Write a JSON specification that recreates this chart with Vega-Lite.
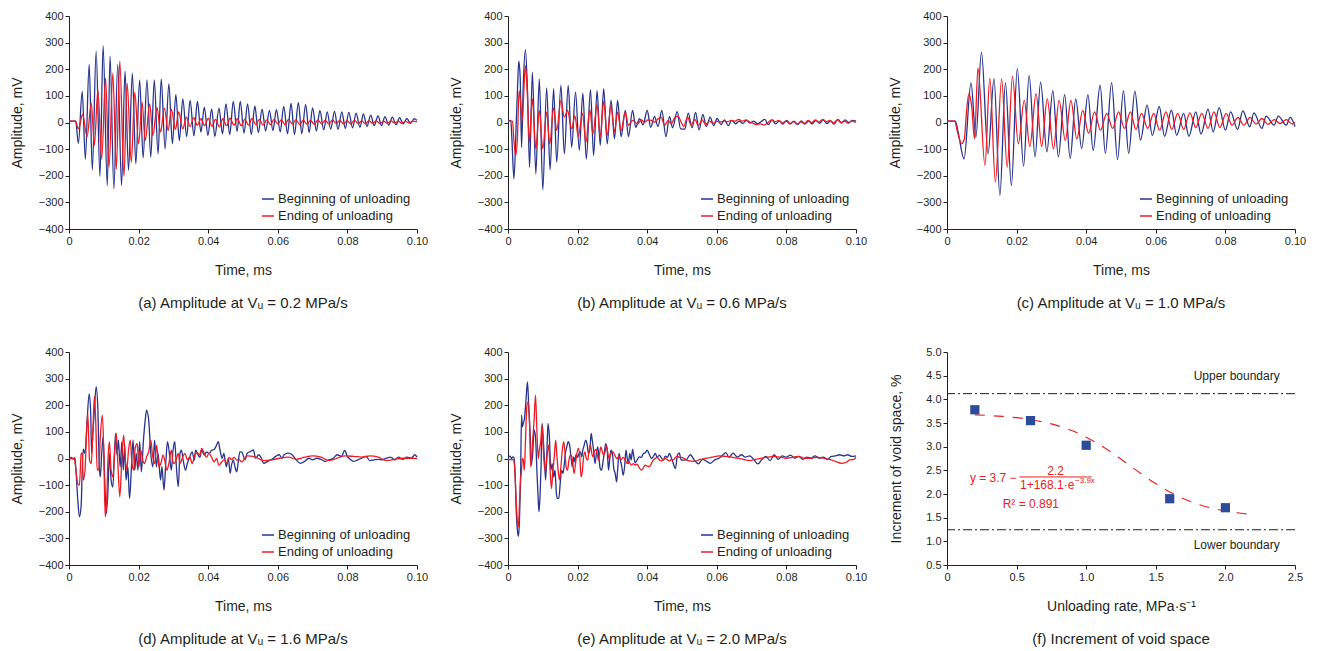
{
"$schema":"https://vega.github.io/schema/vega-lite/v6.json",
"padding":{"left":10,"top":10,"right":0,"bottom":0},
"config":{"font":"Liberation Sans","view":{"stroke":null},
"axis":{"grid":false,"domainColor":"#231f20","tickColor":"#231f20","labelColor":"#231f20","titleColor":"#231f20","labelFont":"Liberation Sans","titleFont":"Liberation Sans","labelFontSize":11,"titleFontSize":14,"titleFontWeight":"normal","tickSize":4,"labelPadding":2,"labelOverlap":false},
"axisY":{"titlePadding":14},"axisX":{"titlePadding":17,"labelFlush":false},
"legend":{"orient":"bottom-right","offset":6,"labelFont":"Liberation Sans","labelFontSize":13,"labelColor":"#231f20","symbolType":"stroke","symbolSize":144,"symbolStrokeWidth":1.5,"rowPadding":3,"padding":0,"labelOffset":3},
"title":{"font":"Liberation Sans","fontSize":15,"fontWeight":"normal","color":"#231f20"}},
"datasets":{
"a":[
{"t":0,"v":5,"s":"B"},{"t":0.0019,"v":5,"s":"B"},{"t":0.0027,"v":-78,"s":"B"},{"t":0.0038,"v":117,"s":"B"},{"t":0.0047,"v":-137,"s":"B"},{"t":0.0058,"v":218,"s":"B"},{"t":0.0067,"v":-178,"s":"B"},{"t":0.0078,"v":268,"s":"B"},{"t":0.0089,"v":-202,"s":"B"},{"t":0.0098,"v":288,"s":"B"},{"t":0.011,"v":-237,"s":"B"},{"t":0.0118,"v":248,"s":"B"},{"t":0.0129,"v":-249,"s":"B"},{"t":0.014,"v":218,"s":"B"},{"t":0.0151,"v":-237,"s":"B"},{"t":0.0161,"v":193,"s":"B"},{"t":0.0171,"v":-180,"s":"B"},{"t":0.0182,"v":185,"s":"B"},{"t":0.0192,"v":-155,"s":"B"},{"t":0.0203,"v":160,"s":"B"},{"t":0.0213,"v":-133,"s":"B"},{"t":0.0224,"v":160,"s":"B"},{"t":0.0235,"v":-130,"s":"B"},{"t":0.0245,"v":160,"s":"B"},{"t":0.0256,"v":-118,"s":"B"},{"t":0.0265,"v":164,"s":"B"},{"t":0.0276,"v":-99,"s":"B"},{"t":0.0287,"v":145,"s":"B"},{"t":0.0297,"v":-80,"s":"B"},{"t":0.0307,"v":105,"s":"B"},{"t":0.0317,"v":-68,"s":"B"},{"t":0.0327,"v":89,"s":"B"},{"t":0.0338,"v":-53,"s":"B"},{"t":0.0348,"v":83,"s":"B"},{"t":0.0359,"v":-50,"s":"B"},{"t":0.0369,"v":79,"s":"B"},{"t":0.0379,"v":-36,"s":"B"},{"t":0.0389,"v":58,"s":"B"},{"t":0.0399,"v":-49,"s":"B"},{"t":0.041,"v":51,"s":"B"},{"t":0.0419,"v":-53,"s":"B"},{"t":0.0431,"v":54,"s":"B"},{"t":0.0441,"v":-43,"s":"B"},{"t":0.0451,"v":70,"s":"B"},{"t":0.0462,"v":-45,"s":"B"},{"t":0.0472,"v":79,"s":"B"},{"t":0.0483,"v":-34,"s":"B"},{"t":0.0492,"v":79,"s":"B"},{"t":0.0503,"v":-40,"s":"B"},{"t":0.0513,"v":70,"s":"B"},{"t":0.0524,"v":-45,"s":"B"},{"t":0.0534,"v":62,"s":"B"},{"t":0.0544,"v":-38,"s":"B"},{"t":0.0555,"v":50,"s":"B"},{"t":0.0565,"v":-32,"s":"B"},{"t":0.0576,"v":45,"s":"B"},{"t":0.0586,"v":-30,"s":"B"},{"t":0.0596,"v":48,"s":"B"},{"t":0.0607,"v":-35,"s":"B"},{"t":0.0617,"v":60,"s":"B"},{"t":0.0628,"v":-42,"s":"B"},{"t":0.0638,"v":72,"s":"B"},{"t":0.0648,"v":-45,"s":"B"},{"t":0.0659,"v":75,"s":"B"},{"t":0.0669,"v":-42,"s":"B"},{"t":0.068,"v":68,"s":"B"},{"t":0.069,"v":-38,"s":"B"},{"t":0.07,"v":55,"s":"B"},{"t":0.0711,"v":-32,"s":"B"},{"t":0.0721,"v":45,"s":"B"},{"t":0.0732,"v":-28,"s":"B"},{"t":0.0742,"v":40,"s":"B"},{"t":0.0752,"v":-25,"s":"B"},{"t":0.0763,"v":42,"s":"B"},{"t":0.0773,"v":-26,"s":"B"},{"t":0.0784,"v":40,"s":"B"},{"t":0.0794,"v":-22,"s":"B"},{"t":0.0804,"v":38,"s":"B"},{"t":0.0815,"v":-20,"s":"B"},{"t":0.0825,"v":35,"s":"B"},{"t":0.0836,"v":-18,"s":"B"},{"t":0.0846,"v":32,"s":"B"},{"t":0.0856,"v":-15,"s":"B"},{"t":0.0867,"v":28,"s":"B"},{"t":0.0877,"v":-12,"s":"B"},{"t":0.0888,"v":25,"s":"B"},{"t":0.0898,"v":-12,"s":"B"},{"t":0.0908,"v":22,"s":"B"},{"t":0.0919,"v":-10,"s":"B"},{"t":0.0929,"v":20,"s":"B"},{"t":0.094,"v":-8,"s":"B"},{"t":0.095,"v":18,"s":"B"},{"t":0.096,"v":-5,"s":"B"},{"t":0.0971,"v":15,"s":"B"},{"t":0.0981,"v":-3,"s":"B"},{"t":0.0992,"v":14,"s":"B"},{"t":0.1,"v":8,"s":"B"},
{"t":0,"v":5,"s":"E"},{"t":0.0019,"v":5,"s":"E"},{"t":0.0027,"v":-24,"s":"E"},{"t":0.0039,"v":30,"s":"E"},{"t":0.0052,"v":-53,"s":"E"},{"t":0.0064,"v":73,"s":"E"},{"t":0.0073,"v":-86,"s":"E"},{"t":0.0083,"v":123,"s":"E"},{"t":0.0094,"v":-137,"s":"E"},{"t":0.0105,"v":167,"s":"E"},{"t":0.0115,"v":-168,"s":"E"},{"t":0.0126,"v":185,"s":"E"},{"t":0.0136,"v":-175,"s":"E"},{"t":0.0146,"v":230,"s":"E"},{"t":0.0158,"v":-203,"s":"E"},{"t":0.0167,"v":148,"s":"E"},{"t":0.0179,"v":-150,"s":"E"},{"t":0.0189,"v":114,"s":"E"},{"t":0.02,"v":-80,"s":"E"},{"t":0.021,"v":76,"s":"E"},{"t":0.0219,"v":-68,"s":"E"},{"t":0.0232,"v":70,"s":"E"},{"t":0.0241,"v":-49,"s":"E"},{"t":0.0253,"v":57,"s":"E"},{"t":0.0263,"v":-36,"s":"E"},{"t":0.0274,"v":54,"s":"E"},{"t":0.0285,"v":-30,"s":"E"},{"t":0.0294,"v":50,"s":"E"},{"t":0.0306,"v":-26,"s":"E"},{"t":0.0315,"v":40,"s":"E"},{"t":0.0327,"v":-24,"s":"E"},{"t":0.0337,"v":20,"s":"E"},{"t":0.0348,"v":-15,"s":"E"},{"t":0.0358,"v":18,"s":"E"},{"t":0.0369,"v":-10,"s":"E"},{"t":0.0379,"v":14,"s":"E"},{"t":0.039,"v":-12,"s":"E"},{"t":0.04,"v":15,"s":"E"},{"t":0.0411,"v":-14,"s":"E"},{"t":0.0421,"v":12,"s":"E"},{"t":0.0432,"v":-16,"s":"E"},{"t":0.0442,"v":14,"s":"E"},{"t":0.0453,"v":-12,"s":"E"},{"t":0.0463,"v":16,"s":"E"},{"t":0.0474,"v":-10,"s":"E"},{"t":0.0484,"v":14,"s":"E"},{"t":0.0495,"v":-12,"s":"E"},{"t":0.0505,"v":12,"s":"E"},{"t":0.0516,"v":-10,"s":"E"},{"t":0.0526,"v":15,"s":"E"},{"t":0.0537,"v":-8,"s":"E"},{"t":0.0547,"v":12,"s":"E"},{"t":0.0558,"v":-10,"s":"E"},{"t":0.0568,"v":10,"s":"E"},{"t":0.0579,"v":-8,"s":"E"},{"t":0.0589,"v":12,"s":"E"},{"t":0.06,"v":-6,"s":"E"},{"t":0.061,"v":10,"s":"E"},{"t":0.0621,"v":-8,"s":"E"},{"t":0.0631,"v":12,"s":"E"},{"t":0.0642,"v":-6,"s":"E"},{"t":0.0652,"v":10,"s":"E"},{"t":0.0663,"v":-8,"s":"E"},{"t":0.0673,"v":9,"s":"E"},{"t":0.0684,"v":-6,"s":"E"},{"t":0.0694,"v":8,"s":"E"},{"t":0.0705,"v":-7,"s":"E"},{"t":0.0715,"v":9,"s":"E"},{"t":0.0726,"v":-5,"s":"E"},{"t":0.0736,"v":8,"s":"E"},{"t":0.0747,"v":-6,"s":"E"},{"t":0.0757,"v":10,"s":"E"},{"t":0.0768,"v":-4,"s":"E"},{"t":0.0778,"v":8,"s":"E"},{"t":0.0789,"v":-6,"s":"E"},{"t":0.0799,"v":7,"s":"E"},{"t":0.081,"v":-5,"s":"E"},{"t":0.082,"v":8,"s":"E"},{"t":0.0831,"v":-4,"s":"E"},{"t":0.0841,"v":6,"s":"E"},{"t":0.0852,"v":-5,"s":"E"},{"t":0.0862,"v":7,"s":"E"},{"t":0.0873,"v":-3,"s":"E"},{"t":0.0883,"v":6,"s":"E"},{"t":0.0894,"v":-4,"s":"E"},{"t":0.0904,"v":5,"s":"E"},{"t":0.0915,"v":-3,"s":"E"},{"t":0.0925,"v":6,"s":"E"},{"t":0.0936,"v":-2,"s":"E"},{"t":0.0946,"v":5,"s":"E"},{"t":0.0957,"v":-3,"s":"E"},{"t":0.0967,"v":4,"s":"E"},{"t":0.0978,"v":-2,"s":"E"},{"t":0.0988,"v":5,"s":"E"},{"t":0.1,"v":2,"s":"E"}],
"b":[
{"t":0,"v":5,"s":"B"},{"t":0.0008,"v":8,"s":"B"},{"t":0.0011,"v":-55,"s":"B"},{"t":0.0017,"v":-212,"s":"B"},{"t":0.0024,"v":10,"s":"B"},{"t":0.0027,"v":114,"s":"B"},{"t":0.0031,"v":230,"s":"B"},{"t":0.0035,"v":170,"s":"B"},{"t":0.0039,"v":-93,"s":"B"},{"t":0.0044,"v":145,"s":"B"},{"t":0.005,"v":274,"s":"B"},{"t":0.0056,"v":120,"s":"B"},{"t":0.0062,"v":-168,"s":"B"},{"t":0.007,"v":189,"s":"B"},{"t":0.008,"v":-193,"s":"B"},{"t":0.009,"v":164,"s":"B"},{"t":0.01,"v":-253,"s":"B"},{"t":0.0111,"v":130,"s":"B"},{"t":0.0121,"v":-178,"s":"B"},{"t":0.0131,"v":127,"s":"B"},{"t":0.014,"v":-149,"s":"B"},{"t":0.0152,"v":139,"s":"B"},{"t":0.0162,"v":-118,"s":"B"},{"t":0.0173,"v":139,"s":"B"},{"t":0.0183,"v":-93,"s":"B"},{"t":0.0194,"v":114,"s":"B"},{"t":0.0205,"v":-105,"s":"B"},{"t":0.0215,"v":110,"s":"B"},{"t":0.0225,"v":-137,"s":"B"},{"t":0.0237,"v":123,"s":"B"},{"t":0.0246,"v":-124,"s":"B"},{"t":0.0256,"v":120,"s":"B"},{"t":0.0265,"v":-86,"s":"B"},{"t":0.0275,"v":127,"s":"B"},{"t":0.0285,"v":-80,"s":"B"},{"t":0.0296,"v":83,"s":"B"},{"t":0.0306,"v":-61,"s":"B"},{"t":0.0315,"v":83,"s":"B"},{"t":0.0325,"v":-53,"s":"B"},{"t":0.0337,"v":45,"s":"B"},{"t":0.0346,"v":-53,"s":"B"},{"t":0.0358,"v":45,"s":"B"},{"t":0.0367,"v":-18,"s":"B"},{"t":0.0378,"v":14,"s":"B"},{"t":0.0388,"v":-9,"s":"B"},{"t":0.04,"v":45,"s":"B"},{"t":0.041,"v":-18,"s":"B"},{"t":0.0421,"v":23,"s":"B"},{"t":0.0431,"v":-15,"s":"B"},{"t":0.0442,"v":45,"s":"B"},{"t":0.0454,"v":-53,"s":"B"},{"t":0.0464,"v":23,"s":"B"},{"t":0.0473,"v":-20,"s":"B"},{"t":0.0486,"v":41,"s":"B"},{"t":0.0496,"v":-24,"s":"B"},{"t":0.0508,"v":-25,"s":"B"},{"t":0.0518,"v":35,"s":"B"},{"t":0.0529,"v":-20,"s":"B"},{"t":0.0539,"v":38,"s":"B"},{"t":0.0549,"v":-28,"s":"B"},{"t":0.056,"v":30,"s":"B"},{"t":0.057,"v":-15,"s":"B"},{"t":0.0581,"v":20,"s":"B"},{"t":0.0591,"v":-12,"s":"B"},{"t":0.0601,"v":15,"s":"B"},{"t":0.0612,"v":-8,"s":"B"},{"t":0.0622,"v":10,"s":"B"},{"t":0.0633,"v":-12,"s":"B"},{"t":0.0643,"v":8,"s":"B"},{"t":0.0654,"v":-5,"s":"B"},{"t":0.0664,"v":5,"s":"B"},{"t":0.0675,"v":-3,"s":"B"},{"t":0.0685,"v":8,"s":"B"},{"t":0.0696,"v":-2,"s":"B"},{"t":0.0706,"v":5,"s":"B"},{"t":0.0717,"v":-5,"s":"B"},{"t":0.0727,"v":3,"s":"B"},{"t":0.0738,"v":12,"s":"B"},{"t":0.0748,"v":-8,"s":"B"},{"t":0.0759,"v":10,"s":"B"},{"t":0.0769,"v":-5,"s":"B"},{"t":0.078,"v":6,"s":"B"},{"t":0.079,"v":-6,"s":"B"},{"t":0.0801,"v":8,"s":"B"},{"t":0.0811,"v":-5,"s":"B"},{"t":0.0822,"v":5,"s":"B"},{"t":0.0832,"v":-8,"s":"B"},{"t":0.0843,"v":6,"s":"B"},{"t":0.0853,"v":-6,"s":"B"},{"t":0.0864,"v":5,"s":"B"},{"t":0.0874,"v":-5,"s":"B"},{"t":0.0885,"v":8,"s":"B"},{"t":0.0895,"v":-3,"s":"B"},{"t":0.0906,"v":10,"s":"B"},{"t":0.0916,"v":-4,"s":"B"},{"t":0.0927,"v":6,"s":"B"},{"t":0.0937,"v":-6,"s":"B"},{"t":0.0948,"v":12,"s":"B"},{"t":0.0958,"v":-2,"s":"B"},{"t":0.0969,"v":10,"s":"B"},{"t":0.0979,"v":0,"s":"B"},{"t":0.099,"v":8,"s":"B"},{"t":0.1,"v":5,"s":"B"},
{"t":0,"v":5,"s":"E"},{"t":0.0013,"v":5,"s":"E"},{"t":0.0017,"v":-68,"s":"E"},{"t":0.0022,"v":-124,"s":"E"},{"t":0.0027,"v":-60,"s":"E"},{"t":0.0032,"v":120,"s":"E"},{"t":0.0037,"v":64,"s":"E"},{"t":0.0041,"v":8,"s":"E"},{"t":0.0046,"v":133,"s":"E"},{"t":0.005,"v":214,"s":"E"},{"t":0.0056,"v":95,"s":"E"},{"t":0.0061,"v":-74,"s":"E"},{"t":0.007,"v":89,"s":"E"},{"t":0.008,"v":-99,"s":"E"},{"t":0.009,"v":45,"s":"E"},{"t":0.01,"v":-99,"s":"E"},{"t":0.0111,"v":39,"s":"E"},{"t":0.012,"v":-80,"s":"E"},{"t":0.0131,"v":55,"s":"E"},{"t":0.014,"v":-30,"s":"E"},{"t":0.0152,"v":83,"s":"E"},{"t":0.0162,"v":20,"s":"E"},{"t":0.0171,"v":45,"s":"E"},{"t":0.0183,"v":-24,"s":"E"},{"t":0.0192,"v":26,"s":"E"},{"t":0.0202,"v":-53,"s":"E"},{"t":0.0214,"v":35,"s":"E"},{"t":0.0224,"v":-74,"s":"E"},{"t":0.0235,"v":49,"s":"E"},{"t":0.0244,"v":-43,"s":"E"},{"t":0.0256,"v":68,"s":"E"},{"t":0.0265,"v":-55,"s":"E"},{"t":0.0275,"v":80,"s":"E"},{"t":0.0285,"v":-49,"s":"E"},{"t":0.0296,"v":64,"s":"E"},{"t":0.0306,"v":-36,"s":"E"},{"t":0.0315,"v":39,"s":"E"},{"t":0.0325,"v":-30,"s":"E"},{"t":0.0337,"v":39,"s":"E"},{"t":0.0346,"v":-11,"s":"E"},{"t":0.0358,"v":8,"s":"E"},{"t":0.0373,"v":-5,"s":"E"},{"t":0.0383,"v":10,"s":"E"},{"t":0.0392,"v":1,"s":"E"},{"t":0.0402,"v":10,"s":"E"},{"t":0.0412,"v":8,"s":"E"},{"t":0.0421,"v":1,"s":"E"},{"t":0.0431,"v":14,"s":"E"},{"t":0.044,"v":20,"s":"E"},{"t":0.045,"v":-11,"s":"E"},{"t":0.046,"v":8,"s":"E"},{"t":0.0469,"v":-5,"s":"E"},{"t":0.0479,"v":18,"s":"E"},{"t":0.0489,"v":23,"s":"E"},{"t":0.0498,"v":0,"s":"E"},{"t":0.0505,"v":-15,"s":"E"},{"t":0.0516,"v":20,"s":"E"},{"t":0.0526,"v":-10,"s":"E"},{"t":0.0537,"v":12,"s":"E"},{"t":0.0547,"v":-12,"s":"E"},{"t":0.0558,"v":10,"s":"E"},{"t":0.0568,"v":-8,"s":"E"},{"t":0.0579,"v":5,"s":"E"},{"t":0.0589,"v":-3,"s":"E"},{"t":0.06,"v":4,"s":"E"},{"t":0.061,"v":2,"s":"E"},{"t":0.0621,"v":5,"s":"E"},{"t":0.0631,"v":3,"s":"E"},{"t":0.0642,"v":8,"s":"E"},{"t":0.0652,"v":5,"s":"E"},{"t":0.0663,"v":12,"s":"E"},{"t":0.0673,"v":5,"s":"E"},{"t":0.0684,"v":10,"s":"E"},{"t":0.0694,"v":2,"s":"E"},{"t":0.0705,"v":-3,"s":"E"},{"t":0.0715,"v":-8,"s":"E"},{"t":0.0726,"v":-5,"s":"E"},{"t":0.0736,"v":-10,"s":"E"},{"t":0.0747,"v":0,"s":"E"},{"t":0.0757,"v":10,"s":"E"},{"t":0.0768,"v":3,"s":"E"},{"t":0.0778,"v":8,"s":"E"},{"t":0.0789,"v":-2,"s":"E"},{"t":0.0799,"v":5,"s":"E"},{"t":0.081,"v":-5,"s":"E"},{"t":0.082,"v":3,"s":"E"},{"t":0.0831,"v":-5,"s":"E"},{"t":0.0841,"v":2,"s":"E"},{"t":0.0852,"v":-3,"s":"E"},{"t":0.0862,"v":8,"s":"E"},{"t":0.0873,"v":0,"s":"E"},{"t":0.0883,"v":10,"s":"E"},{"t":0.0894,"v":2,"s":"E"},{"t":0.0904,"v":12,"s":"E"},{"t":0.0915,"v":3,"s":"E"},{"t":0.0925,"v":8,"s":"E"},{"t":0.0936,"v":-2,"s":"E"},{"t":0.0946,"v":10,"s":"E"},{"t":0.0957,"v":0,"s":"E"},{"t":0.0967,"v":5,"s":"E"},{"t":0.0978,"v":-3,"s":"E"},{"t":0.0988,"v":6,"s":"E"},{"t":0.1,"v":0,"s":"E"}],
"c":[
{"t":0,"v":5,"s":"B"},{"t":0.0024,"v":5,"s":"B"},{"t":0.0032,"v":-36,"s":"B"},{"t":0.0049,"v":-137,"s":"B"},{"t":0.0069,"v":149,"s":"B"},{"t":0.0083,"v":-55,"s":"B"},{"t":0.0099,"v":264,"s":"B"},{"t":0.0118,"v":-118,"s":"B"},{"t":0.0135,"v":165,"s":"B"},{"t":0.0152,"v":-274,"s":"B"},{"t":0.0168,"v":150,"s":"B"},{"t":0.0185,"v":-237,"s":"B"},{"t":0.0202,"v":202,"s":"B"},{"t":0.022,"v":-164,"s":"B"},{"t":0.0236,"v":177,"s":"B"},{"t":0.0253,"v":-129,"s":"B"},{"t":0.0269,"v":152,"s":"B"},{"t":0.0287,"v":-110,"s":"B"},{"t":0.0304,"v":120,"s":"B"},{"t":0.032,"v":-129,"s":"B"},{"t":0.0338,"v":105,"s":"B"},{"t":0.0354,"v":-135,"s":"B"},{"t":0.037,"v":89,"s":"B"},{"t":0.0387,"v":-98,"s":"B"},{"t":0.0405,"v":105,"s":"B"},{"t":0.042,"v":-105,"s":"B"},{"t":0.044,"v":140,"s":"B"},{"t":0.0455,"v":-116,"s":"B"},{"t":0.0473,"v":150,"s":"B"},{"t":0.049,"v":-139,"s":"B"},{"t":0.0507,"v":120,"s":"B"},{"t":0.0522,"v":-116,"s":"B"},{"t":0.054,"v":118,"s":"B"},{"t":0.0556,"v":-66,"s":"B"},{"t":0.0575,"v":65,"s":"B"},{"t":0.059,"v":-48,"s":"B"},{"t":0.061,"v":60,"s":"B"},{"t":0.0625,"v":-52,"s":"B"},{"t":0.0645,"v":46,"s":"B"},{"t":0.066,"v":-48,"s":"B"},{"t":0.068,"v":34,"s":"B"},{"t":0.0695,"v":-52,"s":"B"},{"t":0.0715,"v":40,"s":"B"},{"t":0.073,"v":-44,"s":"B"},{"t":0.075,"v":50,"s":"B"},{"t":0.0765,"v":-35,"s":"B"},{"t":0.0782,"v":56,"s":"B"},{"t":0.08,"v":-29,"s":"B"},{"t":0.0815,"v":40,"s":"B"},{"t":0.0835,"v":-26,"s":"B"},{"t":0.085,"v":44,"s":"B"},{"t":0.087,"v":-16,"s":"B"},{"t":0.0882,"v":36,"s":"B"},{"t":0.0905,"v":-22,"s":"B"},{"t":0.0917,"v":24,"s":"B"},{"t":0.094,"v":-10,"s":"B"},{"t":0.0952,"v":24,"s":"B"},{"t":0.0975,"v":-10,"s":"B"},{"t":0.0986,"v":19,"s":"B"},{"t":0.1,"v":-15,"s":"B"},
{"t":0,"v":5,"s":"E"},{"t":0.0022,"v":5,"s":"E"},{"t":0.003,"v":-35,"s":"E"},{"t":0.0042,"v":-80,"s":"E"},{"t":0.005,"v":-60,"s":"E"},{"t":0.0056,"v":40,"s":"E"},{"t":0.0063,"v":108,"s":"E"},{"t":0.0071,"v":60,"s":"E"},{"t":0.0079,"v":-61,"s":"E"},{"t":0.0089,"v":205,"s":"E"},{"t":0.0109,"v":-161,"s":"E"},{"t":0.0123,"v":167,"s":"E"},{"t":0.0139,"v":-224,"s":"E"},{"t":0.0157,"v":164,"s":"E"},{"t":0.0173,"v":-168,"s":"E"},{"t":0.0188,"v":173,"s":"E"},{"t":0.0205,"v":-80,"s":"E"},{"t":0.0222,"v":83,"s":"E"},{"t":0.0238,"v":-90,"s":"E"},{"t":0.0256,"v":108,"s":"E"},{"t":0.0272,"v":-90,"s":"E"},{"t":0.0288,"v":89,"s":"E"},{"t":0.0306,"v":-99,"s":"E"},{"t":0.0322,"v":83,"s":"E"},{"t":0.034,"v":-68,"s":"E"},{"t":0.0356,"v":83,"s":"E"},{"t":0.0373,"v":-61,"s":"E"},{"t":0.039,"v":45,"s":"E"},{"t":0.0407,"v":-41,"s":"E"},{"t":0.0424,"v":40,"s":"E"},{"t":0.0441,"v":-29,"s":"E"},{"t":0.0459,"v":34,"s":"E"},{"t":0.0476,"v":-22,"s":"E"},{"t":0.0493,"v":40,"s":"E"},{"t":0.051,"v":-22,"s":"E"},{"t":0.0527,"v":40,"s":"E"},{"t":0.0543,"v":-26,"s":"E"},{"t":0.0559,"v":34,"s":"E"},{"t":0.0577,"v":-22,"s":"E"},{"t":0.0594,"v":34,"s":"E"},{"t":0.0611,"v":-29,"s":"E"},{"t":0.0629,"v":40,"s":"E"},{"t":0.0646,"v":-26,"s":"E"},{"t":0.0663,"v":34,"s":"E"},{"t":0.068,"v":-26,"s":"E"},{"t":0.0698,"v":36,"s":"E"},{"t":0.0715,"v":-19,"s":"E"},{"t":0.0732,"v":34,"s":"E"},{"t":0.075,"v":-22,"s":"E"},{"t":0.0767,"v":40,"s":"E"},{"t":0.0784,"v":-19,"s":"E"},{"t":0.0802,"v":34,"s":"E"},{"t":0.0819,"v":-10,"s":"E"},{"t":0.0836,"v":19,"s":"E"},{"t":0.0853,"v":-10,"s":"E"},{"t":0.0871,"v":19,"s":"E"},{"t":0.0888,"v":-6,"s":"E"},{"t":0.0905,"v":15,"s":"E"},{"t":0.0922,"v":-7,"s":"E"},{"t":0.094,"v":11,"s":"E"},{"t":0.0957,"v":-4,"s":"E"},{"t":0.0975,"v":11,"s":"E"},{"t":0.0992,"v":-6,"s":"E"},{"t":0.1,"v":0,"s":"E"}],
"d":[
{"t":0,"v":0,"s":"B"},{"t":0.0006,"v":4,"s":"B"},{"t":0.0012,"v":-2,"s":"B"},{"t":0.0017,"v":3,"s":"B"},{"t":0.002,"v":-44,"s":"B"},{"t":0.0025,"v":-150,"s":"B"},{"t":0.003,"v":-219,"s":"B"},{"t":0.0035,"v":-175,"s":"B"},{"t":0.0038,"v":-44,"s":"B"},{"t":0.0041,"v":35,"s":"B"},{"t":0.0046,"v":19,"s":"B"},{"t":0.0051,"v":119,"s":"B"},{"t":0.0058,"v":243,"s":"B"},{"t":0.0062,"v":182,"s":"B"},{"t":0.0065,"v":19,"s":"B"},{"t":0.0069,"v":107,"s":"B"},{"t":0.0073,"v":182,"s":"B"},{"t":0.0078,"v":270,"s":"B"},{"t":0.0083,"v":182,"s":"B"},{"t":0.0087,"v":-31,"s":"B"},{"t":0.009,"v":-69,"s":"B"},{"t":0.0094,"v":19,"s":"B"},{"t":0.0098,"v":81,"s":"B"},{"t":0.0102,"v":-56,"s":"B"},{"t":0.0107,"v":-207,"s":"B"},{"t":0.0112,"v":-119,"s":"B"},{"t":0.0116,"v":19,"s":"B"},{"t":0.0121,"v":-81,"s":"B"},{"t":0.0126,"v":-107,"s":"B"},{"t":0.0131,"v":31,"s":"B"},{"t":0.0134,"v":94,"s":"B"},{"t":0.0138,"v":13,"s":"B"},{"t":0.0142,"v":69,"s":"B"},{"t":0.0147,"v":-31,"s":"B"},{"t":0.0152,"v":63,"s":"B"},{"t":0.0156,"v":-44,"s":"B"},{"t":0.016,"v":50,"s":"B"},{"t":0.0164,"v":-81,"s":"B"},{"t":0.0169,"v":-31,"s":"B"},{"t":0.0174,"v":-150,"s":"B"},{"t":0.0179,"v":-44,"s":"B"},{"t":0.0184,"v":69,"s":"B"},{"t":0.0189,"v":-44,"s":"B"},{"t":0.0193,"v":19,"s":"B"},{"t":0.0198,"v":-44,"s":"B"},{"t":0.0203,"v":63,"s":"B"},{"t":0.0208,"v":-50,"s":"B"},{"t":0.0214,"v":69,"s":"B"},{"t":0.0219,"v":144,"s":"B"},{"t":0.0223,"v":182,"s":"B"},{"t":0.0229,"v":144,"s":"B"},{"t":0.0235,"v":19,"s":"B"},{"t":0.0241,"v":-31,"s":"B"},{"t":0.0246,"v":69,"s":"B"},{"t":0.0251,"v":-31,"s":"B"},{"t":0.0256,"v":19,"s":"B"},{"t":0.0263,"v":-81,"s":"B"},{"t":0.0267,"v":-31,"s":"B"},{"t":0.0273,"v":-119,"s":"B"},{"t":0.0278,"v":-19,"s":"B"},{"t":0.0283,"v":63,"s":"B"},{"t":0.0288,"v":25,"s":"B"},{"t":0.0294,"v":-44,"s":"B"},{"t":0.0299,"v":31,"s":"B"},{"t":0.0304,"v":63,"s":"B"},{"t":0.0308,"v":-19,"s":"B"},{"t":0.0314,"v":-106,"s":"B"},{"t":0.0319,"v":19,"s":"B"},{"t":0.0323,"v":31,"s":"B"},{"t":0.0328,"v":-6,"s":"B"},{"t":0.0335,"v":-44,"s":"B"},{"t":0.034,"v":-19,"s":"B"},{"t":0.0347,"v":6,"s":"B"},{"t":0.0354,"v":25,"s":"B"},{"t":0.036,"v":-6,"s":"B"},{"t":0.0364,"v":31,"s":"B"},{"t":0.0369,"v":19,"s":"B"},{"t":0.0376,"v":4,"s":"B"},{"t":0.0381,"v":31,"s":"B"},{"t":0.0389,"v":13,"s":"B"},{"t":0.0395,"v":25,"s":"B"},{"t":0.0402,"v":19,"s":"B"},{"t":0.041,"v":31,"s":"B"},{"t":0.0417,"v":34,"s":"B"},{"t":0.0424,"v":50,"s":"B"},{"t":0.0429,"v":63,"s":"B"},{"t":0.0434,"v":31,"s":"B"},{"t":0.044,"v":0,"s":"B"},{"t":0.0445,"v":19,"s":"B"},{"t":0.0452,"v":-31,"s":"B"},{"t":0.0458,"v":0,"s":"B"},{"t":0.0463,"v":-56,"s":"B"},{"t":0.0467,"v":-25,"s":"B"},{"t":0.0472,"v":-6,"s":"B"},{"t":0.0477,"v":-31,"s":"B"},{"t":0.0482,"v":-50,"s":"B"},{"t":0.0487,"v":-6,"s":"B"},{"t":0.0491,"v":25,"s":"B"},{"t":0.0496,"v":25,"s":"B"},{"t":0.0506,"v":-5,"s":"B"},{"t":0.0512,"v":20,"s":"B"},{"t":0.0521,"v":26,"s":"B"},{"t":0.053,"v":32,"s":"B"},{"t":0.0536,"v":1,"s":"B"},{"t":0.0545,"v":14,"s":"B"},{"t":0.0553,"v":1,"s":"B"},{"t":0.0559,"v":-18,"s":"B"},{"t":0.0571,"v":-11,"s":"B"},{"t":0.0583,"v":-3,"s":"B"},{"t":0.0594,"v":8,"s":"B"},{"t":0.0604,"v":14,"s":"B"},{"t":0.0612,"v":1,"s":"B"},{"t":0.0618,"v":14,"s":"B"},{"t":0.063,"v":20,"s":"B"},{"t":0.0641,"v":14,"s":"B"},{"t":0.0653,"v":-5,"s":"B"},{"t":0.0665,"v":-18,"s":"B"},{"t":0.0677,"v":-11,"s":"B"},{"t":0.0689,"v":1,"s":"B"},{"t":0.07,"v":-5,"s":"B"},{"t":0.0712,"v":1,"s":"B"},{"t":0.0724,"v":-3,"s":"B"},{"t":0.0736,"v":-11,"s":"B"},{"t":0.0747,"v":-5,"s":"B"},{"t":0.0759,"v":1,"s":"B"},{"t":0.0771,"v":14,"s":"B"},{"t":0.0783,"v":8,"s":"B"},{"t":0.0792,"v":30,"s":"B"},{"t":0.08,"v":8,"s":"B"},{"t":0.0809,"v":-5,"s":"B"},{"t":0.0818,"v":-11,"s":"B"},{"t":0.083,"v":-5,"s":"B"},{"t":0.0841,"v":1,"s":"B"},{"t":0.0853,"v":8,"s":"B"},{"t":0.0865,"v":-8,"s":"B"},{"t":0.0877,"v":-5,"s":"B"},{"t":0.0889,"v":-3,"s":"B"},{"t":0.09,"v":-5,"s":"B"},{"t":0.0912,"v":1,"s":"B"},{"t":0.0924,"v":5,"s":"B"},{"t":0.0936,"v":-5,"s":"B"},{"t":0.0947,"v":5,"s":"B"},{"t":0.0959,"v":-3,"s":"B"},{"t":0.0971,"v":5,"s":"B"},{"t":0.0983,"v":1,"s":"B"},{"t":0.0994,"v":14,"s":"B"},{"t":0.1,"v":5,"s":"B"},
{"t":0,"v":0,"s":"E"},{"t":0.0015,"v":0,"s":"E"},{"t":0.002,"v":-44,"s":"E"},{"t":0.0025,"v":-94,"s":"E"},{"t":0.003,"v":-100,"s":"E"},{"t":0.0035,"v":19,"s":"E"},{"t":0.0038,"v":21,"s":"E"},{"t":0.0041,"v":-81,"s":"E"},{"t":0.0046,"v":-44,"s":"E"},{"t":0.005,"v":81,"s":"E"},{"t":0.0054,"v":169,"s":"E"},{"t":0.0059,"v":-6,"s":"E"},{"t":0.0064,"v":-19,"s":"E"},{"t":0.0068,"v":81,"s":"E"},{"t":0.0073,"v":232,"s":"E"},{"t":0.0077,"v":132,"s":"E"},{"t":0.0081,"v":-44,"s":"E"},{"t":0.0086,"v":-38,"s":"E"},{"t":0.009,"v":81,"s":"E"},{"t":0.0096,"v":163,"s":"E"},{"t":0.01,"v":19,"s":"E"},{"t":0.0104,"v":-219,"s":"E"},{"t":0.0108,"v":-169,"s":"E"},{"t":0.0112,"v":-6,"s":"E"},{"t":0.0116,"v":63,"s":"E"},{"t":0.0121,"v":-44,"s":"E"},{"t":0.0126,"v":-69,"s":"E"},{"t":0.0131,"v":19,"s":"E"},{"t":0.0136,"v":94,"s":"E"},{"t":0.014,"v":-6,"s":"E"},{"t":0.0146,"v":-144,"s":"E"},{"t":0.0152,"v":6,"s":"E"},{"t":0.0157,"v":88,"s":"E"},{"t":0.0162,"v":-6,"s":"E"},{"t":0.0166,"v":-44,"s":"E"},{"t":0.0171,"v":31,"s":"E"},{"t":0.0176,"v":69,"s":"E"},{"t":0.0181,"v":-19,"s":"E"},{"t":0.0186,"v":-44,"s":"E"},{"t":0.019,"v":38,"s":"E"},{"t":0.0196,"v":56,"s":"E"},{"t":0.0201,"v":-31,"s":"E"},{"t":0.0206,"v":31,"s":"E"},{"t":0.0212,"v":-6,"s":"E"},{"t":0.0217,"v":-19,"s":"E"},{"t":0.0223,"v":6,"s":"E"},{"t":0.0229,"v":25,"s":"E"},{"t":0.0235,"v":69,"s":"E"},{"t":0.024,"v":13,"s":"E"},{"t":0.0246,"v":-19,"s":"E"},{"t":0.0252,"v":50,"s":"E"},{"t":0.0258,"v":-31,"s":"E"},{"t":0.0264,"v":-19,"s":"E"},{"t":0.027,"v":13,"s":"E"},{"t":0.0275,"v":-6,"s":"E"},{"t":0.0281,"v":-44,"s":"E"},{"t":0.0287,"v":-19,"s":"E"},{"t":0.0294,"v":31,"s":"E"},{"t":0.03,"v":-19,"s":"E"},{"t":0.0306,"v":-13,"s":"E"},{"t":0.0314,"v":19,"s":"E"},{"t":0.0319,"v":-19,"s":"E"},{"t":0.0325,"v":0,"s":"E"},{"t":0.0333,"v":19,"s":"E"},{"t":0.034,"v":-4,"s":"E"},{"t":0.0347,"v":6,"s":"E"},{"t":0.0354,"v":-19,"s":"E"},{"t":0.0362,"v":16,"s":"E"},{"t":0.0369,"v":21,"s":"E"},{"t":0.0376,"v":13,"s":"E"},{"t":0.0381,"v":38,"s":"E"},{"t":0.0389,"v":19,"s":"E"},{"t":0.0395,"v":4,"s":"E"},{"t":0.0402,"v":19,"s":"E"},{"t":0.041,"v":4,"s":"E"},{"t":0.0417,"v":-13,"s":"E"},{"t":0.0424,"v":0,"s":"E"},{"t":0.0431,"v":-25,"s":"E"},{"t":0.0439,"v":-13,"s":"E"},{"t":0.0446,"v":-4,"s":"E"},{"t":0.0453,"v":-19,"s":"E"},{"t":0.046,"v":4,"s":"E"},{"t":0.0467,"v":-4,"s":"E"},{"t":0.0475,"v":4,"s":"E"},{"t":0.0482,"v":-6,"s":"E"},{"t":0.0489,"v":-4,"s":"E"},{"t":0.0496,"v":-13,"s":"E"},{"t":0.0512,"v":10,"s":"E"},{"t":0.0536,"v":5,"s":"E"},{"t":0.0559,"v":-8,"s":"E"},{"t":0.0583,"v":-5,"s":"E"},{"t":0.0606,"v":1,"s":"E"},{"t":0.063,"v":5,"s":"E"},{"t":0.0653,"v":-3,"s":"E"},{"t":0.0677,"v":5,"s":"E"},{"t":0.07,"v":10,"s":"E"},{"t":0.0724,"v":5,"s":"E"},{"t":0.0747,"v":-8,"s":"E"},{"t":0.0771,"v":1,"s":"E"},{"t":0.0794,"v":10,"s":"E"},{"t":0.0818,"v":8,"s":"E"},{"t":0.0841,"v":5,"s":"E"},{"t":0.0865,"v":10,"s":"E"},{"t":0.0889,"v":5,"s":"E"},{"t":0.0912,"v":-8,"s":"E"},{"t":0.0936,"v":-3,"s":"E"},{"t":0.0959,"v":1,"s":"E"},{"t":0.0983,"v":1,"s":"E"},{"t":0.1,"v":0,"s":"E"}],
"e":[
{"t":0,"v":4,"s":"B"},{"t":0.0006,"v":9,"s":"B"},{"t":0.001,"v":0,"s":"B"},{"t":0.0014,"v":6,"s":"B"},{"t":0.0017,"v":4,"s":"B"},{"t":0.002,"v":-44,"s":"B"},{"t":0.0024,"v":-207,"s":"B"},{"t":0.0027,"v":-269,"s":"B"},{"t":0.003,"v":-292,"s":"B"},{"t":0.0033,"v":-232,"s":"B"},{"t":0.0036,"v":-81,"s":"B"},{"t":0.0039,"v":163,"s":"B"},{"t":0.0041,"v":119,"s":"B"},{"t":0.0044,"v":132,"s":"B"},{"t":0.0048,"v":157,"s":"B"},{"t":0.0052,"v":226,"s":"B"},{"t":0.0056,"v":288,"s":"B"},{"t":0.006,"v":182,"s":"B"},{"t":0.0064,"v":81,"s":"B"},{"t":0.0067,"v":-25,"s":"B"},{"t":0.0071,"v":19,"s":"B"},{"t":0.0075,"v":107,"s":"B"},{"t":0.0079,"v":81,"s":"B"},{"t":0.0083,"v":-44,"s":"B"},{"t":0.0086,"v":-132,"s":"B"},{"t":0.0089,"v":-200,"s":"B"},{"t":0.0092,"v":-144,"s":"B"},{"t":0.0095,"v":-31,"s":"B"},{"t":0.0098,"v":132,"s":"B"},{"t":0.0101,"v":81,"s":"B"},{"t":0.0105,"v":-6,"s":"B"},{"t":0.0108,"v":-81,"s":"B"},{"t":0.0112,"v":31,"s":"B"},{"t":0.0115,"v":132,"s":"B"},{"t":0.0119,"v":81,"s":"B"},{"t":0.0123,"v":-44,"s":"B"},{"t":0.0127,"v":-19,"s":"B"},{"t":0.0131,"v":-69,"s":"B"},{"t":0.0135,"v":-44,"s":"B"},{"t":0.0139,"v":-132,"s":"B"},{"t":0.0142,"v":-150,"s":"B"},{"t":0.0146,"v":-150,"s":"B"},{"t":0.015,"v":-94,"s":"B"},{"t":0.0154,"v":-44,"s":"B"},{"t":0.0158,"v":-56,"s":"B"},{"t":0.0162,"v":-19,"s":"B"},{"t":0.0165,"v":19,"s":"B"},{"t":0.0169,"v":44,"s":"B"},{"t":0.0173,"v":63,"s":"B"},{"t":0.0177,"v":50,"s":"B"},{"t":0.0181,"v":6,"s":"B"},{"t":0.0185,"v":-31,"s":"B"},{"t":0.0189,"v":6,"s":"B"},{"t":0.0192,"v":-13,"s":"B"},{"t":0.0196,"v":16,"s":"B"},{"t":0.02,"v":4,"s":"B"},{"t":0.0204,"v":19,"s":"B"},{"t":0.0208,"v":25,"s":"B"},{"t":0.0212,"v":6,"s":"B"},{"t":0.0215,"v":31,"s":"B"},{"t":0.0219,"v":50,"s":"B"},{"t":0.0223,"v":69,"s":"B"},{"t":0.0227,"v":56,"s":"B"},{"t":0.0231,"v":19,"s":"B"},{"t":0.0235,"v":31,"s":"B"},{"t":0.0239,"v":94,"s":"B"},{"t":0.0242,"v":69,"s":"B"},{"t":0.0246,"v":31,"s":"B"},{"t":0.025,"v":-19,"s":"B"},{"t":0.0254,"v":19,"s":"B"},{"t":0.0258,"v":44,"s":"B"},{"t":0.0262,"v":-6,"s":"B"},{"t":0.0265,"v":-38,"s":"B"},{"t":0.0269,"v":-44,"s":"B"},{"t":0.0273,"v":-13,"s":"B"},{"t":0.0277,"v":25,"s":"B"},{"t":0.0281,"v":56,"s":"B"},{"t":0.0285,"v":31,"s":"B"},{"t":0.0289,"v":-44,"s":"B"},{"t":0.0292,"v":-6,"s":"B"},{"t":0.0296,"v":31,"s":"B"},{"t":0.03,"v":19,"s":"B"},{"t":0.0304,"v":-38,"s":"B"},{"t":0.0308,"v":-56,"s":"B"},{"t":0.0312,"v":-88,"s":"B"},{"t":0.0315,"v":-44,"s":"B"},{"t":0.0319,"v":19,"s":"B"},{"t":0.0323,"v":-6,"s":"B"},{"t":0.0327,"v":-31,"s":"B"},{"t":0.0331,"v":-63,"s":"B"},{"t":0.0335,"v":-31,"s":"B"},{"t":0.0339,"v":31,"s":"B"},{"t":0.0342,"v":6,"s":"B"},{"t":0.0346,"v":-19,"s":"B"},{"t":0.035,"v":19,"s":"B"},{"t":0.0354,"v":-6,"s":"B"},{"t":0.0358,"v":34,"s":"B"},{"t":0.0362,"v":4,"s":"B"},{"t":0.0365,"v":-16,"s":"B"},{"t":0.0371,"v":-6,"s":"B"},{"t":0.0377,"v":6,"s":"B"},{"t":0.0383,"v":4,"s":"B"},{"t":0.0389,"v":19,"s":"B"},{"t":0.0394,"v":21,"s":"B"},{"t":0.04,"v":31,"s":"B"},{"t":0.0406,"v":16,"s":"B"},{"t":0.0412,"v":0,"s":"B"},{"t":0.0417,"v":6,"s":"B"},{"t":0.0423,"v":19,"s":"B"},{"t":0.0429,"v":4,"s":"B"},{"t":0.0435,"v":13,"s":"B"},{"t":0.044,"v":4,"s":"B"},{"t":0.0446,"v":-6,"s":"B"},{"t":0.0452,"v":9,"s":"B"},{"t":0.0458,"v":4,"s":"B"},{"t":0.0464,"v":19,"s":"B"},{"t":0.0469,"v":4,"s":"B"},{"t":0.0475,"v":-19,"s":"B"},{"t":0.0481,"v":-38,"s":"B"},{"t":0.0487,"v":13,"s":"B"},{"t":0.0492,"v":21,"s":"B"},{"t":0.0498,"v":-6,"s":"B"},{"t":0.0512,"v":-5,"s":"B"},{"t":0.0524,"v":14,"s":"B"},{"t":0.0535,"v":-5,"s":"B"},{"t":0.0547,"v":-20,"s":"B"},{"t":0.0559,"v":-3,"s":"B"},{"t":0.0571,"v":-11,"s":"B"},{"t":0.0582,"v":-18,"s":"B"},{"t":0.0594,"v":-5,"s":"B"},{"t":0.0606,"v":1,"s":"B"},{"t":0.0618,"v":14,"s":"B"},{"t":0.0626,"v":22,"s":"B"},{"t":0.0635,"v":5,"s":"B"},{"t":0.0647,"v":20,"s":"B"},{"t":0.0659,"v":5,"s":"B"},{"t":0.0671,"v":14,"s":"B"},{"t":0.0682,"v":5,"s":"B"},{"t":0.0694,"v":10,"s":"B"},{"t":0.0706,"v":-3,"s":"B"},{"t":0.0718,"v":-20,"s":"B"},{"t":0.0729,"v":-5,"s":"B"},{"t":0.0741,"v":8,"s":"B"},{"t":0.0753,"v":-8,"s":"B"},{"t":0.0765,"v":14,"s":"B"},{"t":0.0776,"v":-3,"s":"B"},{"t":0.0788,"v":10,"s":"B"},{"t":0.08,"v":5,"s":"B"},{"t":0.0812,"v":13,"s":"B"},{"t":0.0824,"v":1,"s":"B"},{"t":0.0835,"v":8,"s":"B"},{"t":0.0847,"v":-3,"s":"B"},{"t":0.0859,"v":5,"s":"B"},{"t":0.0871,"v":1,"s":"B"},{"t":0.0882,"v":10,"s":"B"},{"t":0.0894,"v":1,"s":"B"},{"t":0.0906,"v":5,"s":"B"},{"t":0.0918,"v":-3,"s":"B"},{"t":0.0929,"v":8,"s":"B"},{"t":0.0941,"v":10,"s":"B"},{"t":0.0953,"v":14,"s":"B"},{"t":0.0965,"v":10,"s":"B"},{"t":0.0976,"v":14,"s":"B"},{"t":0.0988,"v":8,"s":"B"},{"t":0.1,"v":10,"s":"B"},
{"t":0,"v":-4,"s":"E"},{"t":0.0015,"v":-4,"s":"E"},{"t":0.0019,"v":-31,"s":"E"},{"t":0.0023,"v":-144,"s":"E"},{"t":0.0027,"v":-238,"s":"E"},{"t":0.003,"v":-257,"s":"E"},{"t":0.0033,"v":-169,"s":"E"},{"t":0.0036,"v":-81,"s":"E"},{"t":0.0039,"v":-44,"s":"E"},{"t":0.0041,"v":0,"s":"E"},{"t":0.0044,"v":-6,"s":"E"},{"t":0.0047,"v":-44,"s":"E"},{"t":0.005,"v":56,"s":"E"},{"t":0.0054,"v":194,"s":"E"},{"t":0.0058,"v":213,"s":"E"},{"t":0.0062,"v":132,"s":"E"},{"t":0.0065,"v":-31,"s":"E"},{"t":0.0068,"v":6,"s":"E"},{"t":0.0071,"v":69,"s":"E"},{"t":0.0075,"v":144,"s":"E"},{"t":0.0079,"v":238,"s":"E"},{"t":0.0083,"v":107,"s":"E"},{"t":0.0087,"v":0,"s":"E"},{"t":0.009,"v":31,"s":"E"},{"t":0.0094,"v":63,"s":"E"},{"t":0.0098,"v":125,"s":"E"},{"t":0.0102,"v":19,"s":"E"},{"t":0.0106,"v":-44,"s":"E"},{"t":0.011,"v":-19,"s":"E"},{"t":0.0114,"v":31,"s":"E"},{"t":0.0117,"v":50,"s":"E"},{"t":0.0121,"v":-44,"s":"E"},{"t":0.0125,"v":-113,"s":"E"},{"t":0.0129,"v":-44,"s":"E"},{"t":0.0133,"v":6,"s":"E"},{"t":0.0137,"v":69,"s":"E"},{"t":0.014,"v":19,"s":"E"},{"t":0.0144,"v":-44,"s":"E"},{"t":0.0148,"v":-81,"s":"E"},{"t":0.0152,"v":-31,"s":"E"},{"t":0.0156,"v":31,"s":"E"},{"t":0.016,"v":63,"s":"E"},{"t":0.0164,"v":19,"s":"E"},{"t":0.0167,"v":-31,"s":"E"},{"t":0.0171,"v":-44,"s":"E"},{"t":0.0175,"v":-6,"s":"E"},{"t":0.0179,"v":13,"s":"E"},{"t":0.0183,"v":9,"s":"E"},{"t":0.0187,"v":-31,"s":"E"},{"t":0.019,"v":-56,"s":"E"},{"t":0.0194,"v":-19,"s":"E"},{"t":0.0198,"v":19,"s":"E"},{"t":0.0202,"v":38,"s":"E"},{"t":0.0206,"v":13,"s":"E"},{"t":0.021,"v":-69,"s":"E"},{"t":0.0214,"v":-44,"s":"E"},{"t":0.0217,"v":4,"s":"E"},{"t":0.0221,"v":25,"s":"E"},{"t":0.0225,"v":0,"s":"E"},{"t":0.0229,"v":-6,"s":"E"},{"t":0.0233,"v":31,"s":"E"},{"t":0.0237,"v":50,"s":"E"},{"t":0.024,"v":25,"s":"E"},{"t":0.0244,"v":6,"s":"E"},{"t":0.0248,"v":25,"s":"E"},{"t":0.0252,"v":34,"s":"E"},{"t":0.0256,"v":19,"s":"E"},{"t":0.026,"v":-6,"s":"E"},{"t":0.0264,"v":25,"s":"E"},{"t":0.0267,"v":44,"s":"E"},{"t":0.0271,"v":25,"s":"E"},{"t":0.0275,"v":13,"s":"E"},{"t":0.0279,"v":25,"s":"E"},{"t":0.0283,"v":47,"s":"E"},{"t":0.0287,"v":19,"s":"E"},{"t":0.029,"v":0,"s":"E"},{"t":0.0296,"v":19,"s":"E"},{"t":0.0302,"v":25,"s":"E"},{"t":0.0308,"v":9,"s":"E"},{"t":0.0313,"v":0,"s":"E"},{"t":0.0319,"v":9,"s":"E"},{"t":0.0325,"v":-4,"s":"E"},{"t":0.0331,"v":4,"s":"E"},{"t":0.0337,"v":-6,"s":"E"},{"t":0.0342,"v":-19,"s":"E"},{"t":0.0348,"v":-13,"s":"E"},{"t":0.0354,"v":-25,"s":"E"},{"t":0.036,"v":-19,"s":"E"},{"t":0.0365,"v":-25,"s":"E"},{"t":0.0371,"v":-21,"s":"E"},{"t":0.0377,"v":-34,"s":"E"},{"t":0.0383,"v":-44,"s":"E"},{"t":0.0388,"v":-38,"s":"E"},{"t":0.0394,"v":-25,"s":"E"},{"t":0.04,"v":-29,"s":"E"},{"t":0.0406,"v":-31,"s":"E"},{"t":0.0412,"v":-19,"s":"E"},{"t":0.0417,"v":-6,"s":"E"},{"t":0.0423,"v":0,"s":"E"},{"t":0.0429,"v":4,"s":"E"},{"t":0.0435,"v":-6,"s":"E"},{"t":0.044,"v":-9,"s":"E"},{"t":0.0446,"v":-4,"s":"E"},{"t":0.0452,"v":0,"s":"E"},{"t":0.0458,"v":-4,"s":"E"},{"t":0.0464,"v":-9,"s":"E"},{"t":0.0469,"v":-4,"s":"E"},{"t":0.0475,"v":-6,"s":"E"},{"t":0.0481,"v":4,"s":"E"},{"t":0.0487,"v":9,"s":"E"},{"t":0.0492,"v":4,"s":"E"},{"t":0.0498,"v":4,"s":"E"},{"t":0.0518,"v":-8,"s":"E"},{"t":0.0535,"v":-11,"s":"E"},{"t":0.0553,"v":-3,"s":"E"},{"t":0.0571,"v":1,"s":"E"},{"t":0.0588,"v":5,"s":"E"},{"t":0.0606,"v":10,"s":"E"},{"t":0.0624,"v":8,"s":"E"},{"t":0.0641,"v":5,"s":"E"},{"t":0.0659,"v":1,"s":"E"},{"t":0.0676,"v":-3,"s":"E"},{"t":0.0694,"v":-8,"s":"E"},{"t":0.0712,"v":-3,"s":"E"},{"t":0.0729,"v":1,"s":"E"},{"t":0.0747,"v":5,"s":"E"},{"t":0.0765,"v":8,"s":"E"},{"t":0.0782,"v":5,"s":"E"},{"t":0.08,"v":1,"s":"E"},{"t":0.0818,"v":5,"s":"E"},{"t":0.0835,"v":8,"s":"E"},{"t":0.0853,"v":1,"s":"E"},{"t":0.0871,"v":1,"s":"E"},{"t":0.0888,"v":5,"s":"E"},{"t":0.0906,"v":1,"s":"E"},{"t":0.0924,"v":-3,"s":"E"},{"t":0.0941,"v":-11,"s":"E"},{"t":0.0959,"v":-18,"s":"E"},{"t":0.0971,"v":-15,"s":"E"},{"t":0.0982,"v":-5,"s":"E"},{"t":0.0994,"v":-3,"s":"E"},{"t":0.1,"v":5,"s":"E"}],
"fit":[{"x":0.2,"y":3.672},{"x":0.3,"y":3.659},{"x":0.4,"y":3.639},{"x":0.5,"y":3.612},{"x":0.6,"y":3.572},{"x":0.7,"y":3.516},{"x":0.8,"y":3.439},{"x":0.9,"y":3.335},{"x":1.0,"y":3.2},{"x":1.1,"y":3.034},{"x":1.2,"y":2.841},{"x":1.3,"y":2.63},{"x":1.4,"y":2.417},{"x":1.5,"y":2.218},{"x":1.6,"y":2.043},{"x":1.7,"y":1.9},{"x":1.8,"y":1.787},{"x":1.9,"y":1.703},{"x":2.0,"y":1.642},{"x":2.1,"y":1.598},{"x":2.2,"y":1.567}],
"pts":[{"x":0.2,"y":3.78},{"x":0.6,"y":3.55},{"x":1.0,"y":3.03},{"x":1.6,"y":1.9},{"x":2.0,"y":1.71}],
"bounds":[{"y":4.12},{"y":1.245}],
"one":[{}]
},
"columns":3,
"spacing":{"row":123,"column":91},
"bounds":"flush",
"resolve":{"legend":{"color":"independent"}},
"concat":[
{"width":348,"height":213,"data":{"name":"a"},"mark":{"type":"line","strokeWidth":1.3,"interpolate":"monotone"},
"encoding":{"x":{"field":"t","type":"quantitative","scale":{"domain":[0,0.1],"nice":false},"axis":{"values":[0,0.02,0.04,0.06,0.08,0.1],"labelExpr":"datum.value == 0 ? '0' : format(datum.value, '.2f')","title":"Time, ms"}},
"y":{"field":"v","type":"quantitative","scale":{"domain":[-400,400],"nice":false},"axis":{"values":[-400,-300,-200,-100,0,100,200,300,400],"title":"Amplitude, mV"}},
"color":{"field":"s","type":"nominal","scale":{"domain":["B","E"],"range":["#27348b","#ed1c24"]},"legend":{"title":null,"labelFontSize":13,"labelExpr":"datum.label == 'B' ? 'Beginning of unloading' : 'Ending of unloading'"}}},
"title":{"text":"(a) Amplitude at Vᵤ = 0.2 MPa/s","orient":"bottom","offset":19}},
{"width":348,"height":213,"data":{"name":"b"},"mark":{"type":"line","strokeWidth":1.3,"interpolate":"monotone"},
"encoding":{"x":{"field":"t","type":"quantitative","scale":{"domain":[0,0.1],"nice":false},"axis":{"values":[0,0.02,0.04,0.06,0.08,0.1],"labelExpr":"datum.value == 0 ? '0' : format(datum.value, '.2f')","title":"Time, ms"}},
"y":{"field":"v","type":"quantitative","scale":{"domain":[-400,400],"nice":false},"axis":{"values":[-400,-300,-200,-100,0,100,200,300,400],"title":"Amplitude, mV"}},
"color":{"field":"s","type":"nominal","scale":{"domain":["B","E"],"range":["#27348b","#ed1c24"]},"legend":{"title":null,"labelFontSize":13,"labelExpr":"datum.label == 'B' ? 'Beginning of unloading' : 'Ending of unloading'"}}},
"title":{"text":"(b) Amplitude at Vᵤ = 0.6 MPa/s","orient":"bottom","offset":19}},
{"width":348,"height":213,"data":{"name":"c"},"mark":{"type":"line","strokeWidth":1.3,"interpolate":"monotone"},
"encoding":{"x":{"field":"t","type":"quantitative","scale":{"domain":[0,0.1],"nice":false},"axis":{"values":[0,0.02,0.04,0.06,0.08,0.1],"labelExpr":"datum.value == 0 ? '0' : format(datum.value, '.2f')","title":"Time, ms"}},
"y":{"field":"v","type":"quantitative","scale":{"domain":[-400,400],"nice":false},"axis":{"values":[-400,-300,-200,-100,0,100,200,300,400],"title":"Amplitude, mV"}},
"color":{"field":"s","type":"nominal","scale":{"domain":["B","E"],"range":["#27348b","#ed1c24"]},"legend":{"title":null,"labelFontSize":13,"labelExpr":"datum.label == 'B' ? 'Beginning of unloading' : 'Ending of unloading'"}}},
"title":{"text":"(c) Amplitude at Vᵤ = 1.0 MPa/s","orient":"bottom","offset":19}},
{"width":348,"height":213,"data":{"name":"d"},"mark":{"type":"line","strokeWidth":1.3,"interpolate":"monotone"},
"encoding":{"x":{"field":"t","type":"quantitative","scale":{"domain":[0,0.1],"nice":false},"axis":{"values":[0,0.02,0.04,0.06,0.08,0.1],"labelExpr":"datum.value == 0 ? '0' : format(datum.value, '.2f')","title":"Time, ms"}},
"y":{"field":"v","type":"quantitative","scale":{"domain":[-400,400],"nice":false},"axis":{"values":[-400,-300,-200,-100,0,100,200,300,400],"title":"Amplitude, mV"}},
"color":{"field":"s","type":"nominal","scale":{"domain":["B","E"],"range":["#27348b","#ed1c24"]},"legend":{"title":null,"labelFontSize":13,"labelExpr":"datum.label == 'B' ? 'Beginning of unloading' : 'Ending of unloading'"}}},
"title":{"text":"(d) Amplitude at Vᵤ = 1.6 MPa/s","orient":"bottom","offset":19}},
{"width":348,"height":213,"data":{"name":"e"},"mark":{"type":"line","strokeWidth":1.3,"interpolate":"monotone"},
"encoding":{"x":{"field":"t","type":"quantitative","scale":{"domain":[0,0.1],"nice":false},"axis":{"values":[0,0.02,0.04,0.06,0.08,0.1],"labelExpr":"datum.value == 0 ? '0' : format(datum.value, '.2f')","title":"Time, ms"}},
"y":{"field":"v","type":"quantitative","scale":{"domain":[-400,400],"nice":false},"axis":{"values":[-400,-300,-200,-100,0,100,200,300,400],"title":"Amplitude, mV"}},
"color":{"field":"s","type":"nominal","scale":{"domain":["B","E"],"range":["#27348b","#ed1c24"]},"legend":{"title":null,"labelFontSize":13,"labelExpr":"datum.label == 'B' ? 'Beginning of unloading' : 'Ending of unloading'"}}},
"title":{"text":"(e) Amplitude at Vᵤ = 2.0 MPa/s","orient":"bottom","offset":19}},
{"width":348,"height":213,
"title":{"text":"(f) Increment of void space","orient":"bottom","offset":19},
"layer":[
{"data":{"name":"bounds"},"mark":{"type":"rule","color":"#231f20","strokeWidth":1,"strokeDash":[9,3,2,3]},"encoding":{"y":{"field":"y","type":"quantitative","scale":{"domain":[0.5,5],"nice":false,"zero":false},"axis":{"values":[0.5,1,1.5,2,2.5,3,3.5,4,4.5,5],"format":".1f","labelOverlap":false,"tickCount":10,"title":"Increment of void space, %","titlePadding":22}}}},
{"data":{"name":"fit"},"mark":{"type":"line","color":"#e8211d","strokeWidth":1.2,"strokeDash":[10,9],"interpolate":"monotone"},
"encoding":{"x":{"field":"x","type":"quantitative","scale":{"domain":[0,2.5],"nice":false,"zero":false},"axis":{"values":[0,0.5,1,1.5,2,2.5],"labelOverlap":false,"tickCount":6,"labelExpr":"datum.value == 0 ? '0' : format(datum.value, '.1f')","title":"Unloading rate, MPa·s⁻¹"}},"y":{"field":"y","type":"quantitative","scale":{"domain":[0.5,5],"nice":false,"zero":false},"axis":{"values":[0.5,1,1.5,2,2.5,3,3.5,4,4.5,5],"format":".1f","labelOverlap":false,"tickCount":10,"title":"Increment of void space, %","titlePadding":22}}}},
{"data":{"name":"pts"},"mark":{"type":"square","color":"#2b4c9b","size":85,"opacity":1},
"encoding":{"x":{"field":"x","type":"quantitative","scale":{"domain":[0,2.5],"nice":false,"zero":false},"axis":{"values":[0,0.5,1,1.5,2,2.5],"labelOverlap":false,"tickCount":6,"labelExpr":"datum.value == 0 ? '0' : format(datum.value, '.1f')","title":"Unloading rate, MPa·s⁻¹"}},"y":{"field":"y","type":"quantitative","scale":{"domain":[0.5,5],"nice":false,"zero":false},"axis":{"values":[0.5,1,1.5,2,2.5,3,3.5,4,4.5,5],"format":".1f","labelOverlap":false,"tickCount":10,"title":"Increment of void space, %","titlePadding":22}}}},
{"data":{"name":"one"},"mark":{"type":"text","text":"Upper boundary","align":"right","baseline":"middle","fontSize":12,"color":"#231f20"},"encoding":{"x":{"datum":2.39,"type":"quantitative","scale":{"domain":[0,2.5],"nice":false,"zero":false},"axis":{"values":[0,0.5,1,1.5,2,2.5],"labelOverlap":false,"tickCount":6,"labelExpr":"datum.value == 0 ? '0' : format(datum.value, '.1f')","title":"Unloading rate, MPa·s⁻¹"}},"y":{"datum":4.49,"type":"quantitative","scale":{"domain":[0.5,5],"nice":false,"zero":false},"axis":{"values":[0.5,1,1.5,2,2.5,3,3.5,4,4.5,5],"format":".1f","labelOverlap":false,"tickCount":10,"title":"Increment of void space, %","titlePadding":22}}}},
{"data":{"name":"one"},"mark":{"type":"text","text":"Lower boundary","align":"right","baseline":"middle","fontSize":12,"color":"#231f20"},"encoding":{"x":{"datum":2.39,"type":"quantitative","scale":{"domain":[0,2.5],"nice":false,"zero":false},"axis":{"values":[0,0.5,1,1.5,2,2.5],"labelOverlap":false,"tickCount":6,"labelExpr":"datum.value == 0 ? '0' : format(datum.value, '.1f')","title":"Unloading rate, MPa·s⁻¹"}},"y":{"datum":0.93,"type":"quantitative","scale":{"domain":[0.5,5],"nice":false,"zero":false},"axis":{"values":[0.5,1,1.5,2,2.5,3,3.5,4,4.5,5],"format":".1f","labelOverlap":false,"tickCount":10,"title":"Increment of void space, %","titlePadding":22}}}},
{"data":{"name":"one"},"mark":{"type":"text","text":"y = 3.7 −","align":"right","baseline":"middle","fontSize":12,"color":"#e8211d"},"encoding":{"x":{"datum":0.5,"type":"quantitative","scale":{"domain":[0,2.5],"nice":false,"zero":false},"axis":{"values":[0,0.5,1,1.5,2,2.5],"labelOverlap":false,"tickCount":6,"labelExpr":"datum.value == 0 ? '0' : format(datum.value, '.1f')","title":"Unloading rate, MPa·s⁻¹"}},"y":{"datum":2.34,"type":"quantitative","scale":{"domain":[0.5,5],"nice":false,"zero":false},"axis":{"values":[0.5,1,1.5,2,2.5,3,3.5,4,4.5,5],"format":".1f","labelOverlap":false,"tickCount":10,"title":"Increment of void space, %","titlePadding":22}}}},
{"data":{"name":"one"},"mark":{"type":"text","text":"2.2","align":"center","baseline":"middle","fontSize":12,"color":"#e8211d"},"encoding":{"x":{"datum":0.78,"type":"quantitative","scale":{"domain":[0,2.5],"nice":false,"zero":false},"axis":{"values":[0,0.5,1,1.5,2,2.5],"labelOverlap":false,"tickCount":6,"labelExpr":"datum.value == 0 ? '0' : format(datum.value, '.1f')","title":"Unloading rate, MPa·s⁻¹"}},"y":{"datum":2.49,"type":"quantitative","scale":{"domain":[0.5,5],"nice":false,"zero":false},"axis":{"values":[0.5,1,1.5,2,2.5,3,3.5,4,4.5,5],"format":".1f","labelOverlap":false,"tickCount":10,"title":"Increment of void space, %","titlePadding":22}}}},
{"data":{"name":"one"},"mark":{"type":"rule","color":"#e8211d","strokeWidth":1},"encoding":{"x":{"datum":0.52,"type":"quantitative","scale":{"domain":[0,2.5],"nice":false,"zero":false},"axis":{"values":[0,0.5,1,1.5,2,2.5],"labelOverlap":false,"tickCount":6,"labelExpr":"datum.value == 0 ? '0' : format(datum.value, '.1f')","title":"Unloading rate, MPa·s⁻¹"}},"x2":{"datum":1.04},"y":{"datum":2.36,"type":"quantitative","scale":{"domain":[0.5,5],"nice":false,"zero":false},"axis":{"values":[0.5,1,1.5,2,2.5,3,3.5,4,4.5,5],"format":".1f","labelOverlap":false,"tickCount":10,"title":"Increment of void space, %","titlePadding":22}}}},
{"data":{"name":"one"},"mark":{"type":"text","text":"1+168.1·e","align":"right","baseline":"middle","fontSize":12,"color":"#e8211d"},"encoding":{"x":{"datum":0.915,"type":"quantitative","scale":{"domain":[0,2.5],"nice":false,"zero":false},"axis":{"values":[0,0.5,1,1.5,2,2.5],"labelOverlap":false,"tickCount":6,"labelExpr":"datum.value == 0 ? '0' : format(datum.value, '.1f')","title":"Unloading rate, MPa·s⁻¹"}},"y":{"datum":2.2,"type":"quantitative","scale":{"domain":[0.5,5],"nice":false,"zero":false},"axis":{"values":[0.5,1,1.5,2,2.5,3,3.5,4,4.5,5],"format":".1f","labelOverlap":false,"tickCount":10,"title":"Increment of void space, %","titlePadding":22}}}},
{"data":{"name":"one"},"mark":{"type":"text","text":"−3.9x","align":"left","baseline":"middle","fontSize":8,"color":"#e8211d"},"encoding":{"x":{"datum":0.92,"type":"quantitative","scale":{"domain":[0,2.5],"nice":false,"zero":false},"axis":{"values":[0,0.5,1,1.5,2,2.5],"labelOverlap":false,"tickCount":6,"labelExpr":"datum.value == 0 ? '0' : format(datum.value, '.1f')","title":"Unloading rate, MPa·s⁻¹"}},"y":{"datum":2.27,"type":"quantitative","scale":{"domain":[0.5,5],"nice":false,"zero":false},"axis":{"values":[0.5,1,1.5,2,2.5,3,3.5,4,4.5,5],"format":".1f","labelOverlap":false,"tickCount":10,"title":"Increment of void space, %","titlePadding":22}}}},
{"data":{"name":"one"},"mark":{"type":"text","text":"R² = 0.891","align":"left","baseline":"middle","fontSize":12,"color":"#e8211d"},"encoding":{"x":{"datum":0.4,"type":"quantitative","scale":{"domain":[0,2.5],"nice":false,"zero":false},"axis":{"values":[0,0.5,1,1.5,2,2.5],"labelOverlap":false,"tickCount":6,"labelExpr":"datum.value == 0 ? '0' : format(datum.value, '.1f')","title":"Unloading rate, MPa·s⁻¹"}},"y":{"datum":1.79,"type":"quantitative","scale":{"domain":[0.5,5],"nice":false,"zero":false},"axis":{"values":[0.5,1,1.5,2,2.5,3,3.5,4,4.5,5],"format":".1f","labelOverlap":false,"tickCount":10,"title":"Increment of void space, %","titlePadding":22}}}}
]}
]
}
